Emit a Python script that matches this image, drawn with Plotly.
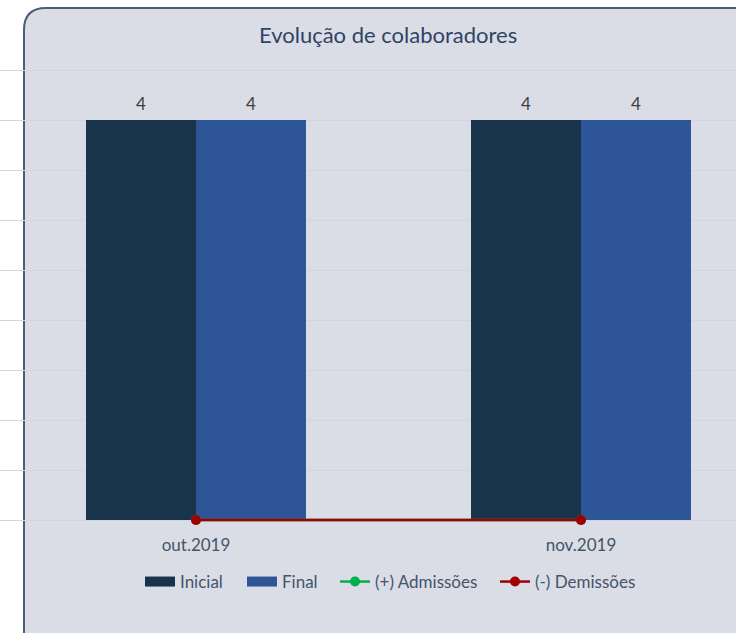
import plotly.graph_objects as go

categories = ["out.2019", "nov.2019"]
inicial = [4, 4]
final = [4, 4]
admissoes = [0, 0]
demissoes = [0, 0]

W, H = 736, 633
Y0PX = 520  # px of value 0
UNIT = 100.0  # px per unit
YMIN, YMAX = -0.05, 4.55
PT = Y0PX - YMAX * UNIT
PB = Y0PX - YMIN * UNIT


def px2paper(x, y):
    return x / W, (PB - y) / (PB - PT)


C_INI, C_FIN, C_ADM, C_DEM = "#17344b", "#2e5597", "#00b050", "#a00000"

fig = go.Figure()
fig.add_trace(go.Bar(name="Inicial", x=categories, y=inicial, marker=dict(color=C_INI, line=dict(width=0)),
                     legendgroup="ini", showlegend=False))
fig.add_trace(go.Bar(name="Final", x=categories, y=final, marker=dict(color=C_FIN, line=dict(width=0)),
                     legendgroup="fin", showlegend=False))
# legend entries for bars (wide rectangle swatches)
fig.add_trace(go.Scatter(name="Inicial", x=[None], y=[None], mode="lines", legendgroup="ini",
                         line=dict(color=C_INI, width=10), legend="legend"))
fig.add_trace(go.Scatter(name="Final", x=[None], y=[None], mode="lines", legendgroup="fin",
                         line=dict(color=C_FIN, width=10), legend="legend2"))
fig.add_trace(go.Scatter(name="(+) Admissões", x=categories, y=admissoes, mode="lines+markers",
                         line=dict(color=C_ADM, width=2.5), marker=dict(size=10, color=C_ADM),
                         cliponaxis=False, legend="legend3"))
fig.add_trace(go.Scatter(name="(-) Demissões", x=categories, y=demissoes, mode="lines+markers",
                         line=dict(color=C_DEM, width=2.5), marker=dict(size=10, color=C_DEM),
                         cliponaxis=False, legend="legend4"))

# value labels above bars
BAR_HALF = 55
annotations = [dict(text="Evolução de colaboradores", xref="paper", yref="paper",
                    x=388 / W, y=px2paper(0, 34)[1], xanchor="center", yanchor="middle",
                    showarrow=False, font=dict(size=22, color="#2f4268"))]
for series, shift in ((inicial, -BAR_HALF), (final, BAR_HALF)):
    for c, v in zip(categories, series):
        annotations.append(dict(x=c, y=v, xref="x", yref="y", text=str(v), showarrow=False,
                                xshift=shift, yshift=17, yanchor="middle",
                                font=dict(size=17, color="#404040")))


def P(x, y):
    a, b = px2paper(x, y)
    return f"{a:.5f},{b:.5f}"

r = 22
L, T, R, B = 24, 8, 770, 660
path = (f"M {P(L, B)} L {P(L, T + r)} Q {P(L, T)} {P(L + r, T)} "
        f"L {P(R, T)} L {P(R, B)} Z")

LEG_Y = px2paper(0, 582)[1]
OFF = 5


def leg(xpx):
    return dict(orientation="h", x=(xpx - OFF) / W, xanchor="left", y=LEG_Y, yanchor="middle",
                font=dict(size=17, color="#44546a"), bgcolor="rgba(0,0,0,0)", itemwidth=30)


fig.update_layout(
    width=W, height=H,
    margin=dict(l=0, r=0, t=PT, b=H - PB, pad=0),
    paper_bgcolor="white",
    plot_bgcolor="rgba(0,0,0,0)",
    barmode="group", bargap=0.4286, bargroupgap=0,
    font=dict(family="Lato, 'Noto Sans', sans-serif", color="#44546a"),
    showlegend=True,
    legend=leg(145), legend2=leg(247), legend3=leg(340), legend4=leg(500),
    shapes=[dict(type="path", path=path, xref="paper", yref="paper",
                 fillcolor="#dadde5", line=dict(color="#4a5d78", width=2), layer="below")],
    annotations=annotations,
)
scale = 385.0
r0 = -196.0 / scale
fig.update_xaxes(type="category", range=[r0, r0 + W / scale], showgrid=False, showline=False,
                 zeroline=False, ticks="", tickfont=dict(size=17, color="#44546a"), ticklabelstandoff=8)
fig.update_yaxes(range=[YMIN, YMAX], tick0=0, dtick=0.5, showgrid=True, gridcolor="#d3d5dc", gridwidth=1,
                 showticklabels=False, zeroline=False, showline=False)

fig.write_html("out.html", config={"displayModeBar": False},
               post_script="document.body.style.margin='0';")
